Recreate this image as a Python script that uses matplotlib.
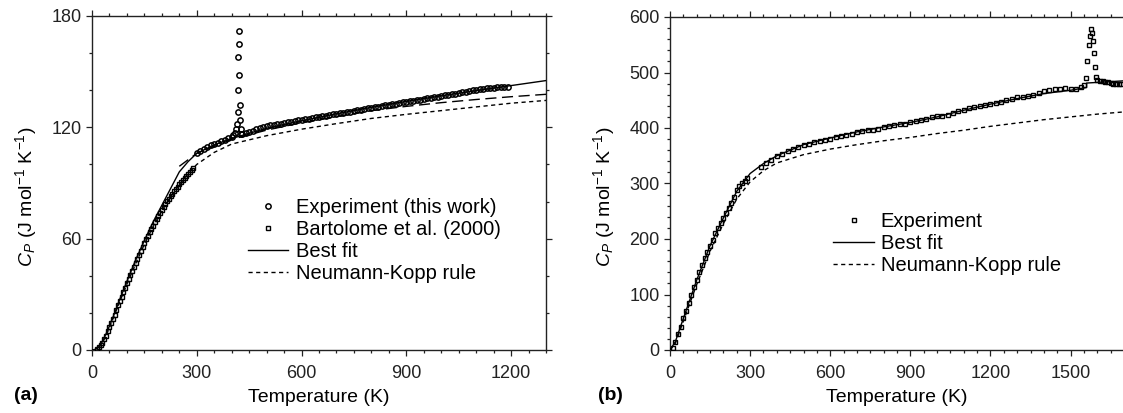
import matplotlib
matplotlib.use("Agg")
import matplotlib.pyplot as plt
from matplotlib.ticker import MultipleLocator

plt.rcParams['font.family'] = ['Liberation Sans', 'DejaVu Sans']
plt.rcParams['mathtext.fontset'] = 'custom'
plt.rcParams['mathtext.rm'] = 'Liberation Sans'
plt.rcParams['mathtext.it'] = 'Liberation Sans:italic'
plt.rcParams['mathtext.bf'] = 'Liberation Sans:bold'

# ---------------- Panel (a) data ----------------
a_exp_T = [300, 310, 320, 330, 340, 350, 360, 370, 380, 390, 400, 405, 410, 413, 415, 417,
           418, 419, 420, 421, 422, 423, 424, 426, 428, 430,
           440, 450, 460, 470, 480, 490, 500, 510, 520, 530, 540, 550, 560, 570, 580, 590,
           600, 610, 620, 630, 640, 650, 660, 670, 680, 690, 700, 710, 720, 730, 740, 750,
           760, 770, 780, 790, 800, 810, 820, 830, 840, 850, 860, 870, 880, 890, 900, 910,
           920, 930, 940, 950, 960, 970, 980, 990, 1000, 1010, 1020, 1030, 1040, 1050, 1060,
           1070, 1080, 1090, 1100, 1110, 1120, 1130, 1140, 1150, 1160, 1170, 1180, 1190]
a_exp_Cp = [106.0, 107.4, 108.5, 109.5, 110.3, 111.0, 111.7, 112.4, 113.2, 114.0, 115.0, 115.8,
            117.0, 119.0, 122.0, 128.0, 140.0, 158.0, 172.0, 165.0, 148.0, 132.0, 124.0, 119.0,
            116.5, 116.2,
            116.8, 117.5, 118.2, 118.9, 119.6, 120.1, 120.6, 121.0, 121.3, 121.7, 122.0, 122.3,
            122.7, 123.0, 123.3, 123.7, 124.0, 124.3, 124.6, 125.0, 125.3, 125.7, 126.0, 126.3,
            126.6, 127.0, 127.3, 127.6, 127.9, 128.2, 128.5, 128.9, 129.2, 129.6, 129.9, 130.2,
            130.5, 130.8, 131.1, 131.5, 131.8, 132.2, 132.5, 132.7, 133.0, 133.4, 133.8, 134.1,
            134.4, 134.7, 135.0, 135.3, 135.6, 136.0, 136.3, 136.6, 136.9, 137.3, 137.6, 137.9,
            138.2, 138.6, 138.9, 139.2, 139.5, 139.9, 140.2, 140.4, 140.7, 141.0, 141.2, 141.4,
            141.6, 141.8, 141.9, 142.0]

a_bart_T = [15, 20, 25, 30, 35, 40, 45, 50, 55, 60, 65, 70, 75, 80, 85, 90, 95, 100, 105, 110,
            115, 120, 125, 130, 135, 140, 145, 150, 155, 160, 165, 170, 175, 180, 185, 190, 195,
            200, 205, 210, 215, 220, 225, 230, 235, 240, 245, 250, 255, 260, 265, 270, 275, 280,
            285, 290]
a_bart_Cp = [0.8, 1.5, 2.6, 4.0, 5.8, 7.8, 10.0, 12.2, 14.5, 16.8, 19.1, 21.5, 24.0, 26.5, 28.8,
             31.2, 33.6, 36.0, 38.3, 40.5, 42.8, 45.0, 47.1, 49.2, 51.4, 53.5, 55.6, 57.6, 59.6,
             61.5, 63.4, 65.2, 67.0, 68.8, 70.5, 72.2, 73.9, 75.6, 77.2, 78.8, 80.2, 81.6, 83.0,
             84.3, 85.6, 86.8, 88.0, 89.2, 90.4, 91.6, 92.7, 93.8, 94.9, 96.0, 97.0, 98.0]

a_fit_T = [0, 10, 20, 30, 40, 50, 60, 80, 100, 125, 150, 175, 200, 225, 250, 275, 300, 350,
           400, 500, 600, 700, 800, 900, 1000, 1100, 1200, 1300]
a_fit_Cp = [0, 0.3, 1.8, 4.6, 8.6, 13.0, 17.6, 27.5, 37.0, 48.5, 59.0, 69.0, 78.0, 87.0, 96.0,
            101.5, 106.0, 110.5, 114.0, 119.5, 123.5, 127.3, 130.8, 134.0, 137.0, 139.8,
            142.5, 145.2]

a_alt_T = [250, 300, 400, 500, 600, 700, 800, 900, 1000, 1100, 1200, 1300]
a_alt_Cp = [99.0, 106.0, 113.5, 118.5, 122.5, 125.8, 129.0, 131.3, 133.3, 135.0, 136.5, 137.8]

a_nk_T = [0, 10, 20, 30, 40, 50, 75, 100, 125, 150, 175, 200, 225, 250, 275, 300, 350, 400,
          500, 600, 700, 800, 900, 1000, 1100, 1200, 1300]
a_nk_Cp = [0, 0.3, 1.5, 4.0, 7.6, 12.0, 24.0, 35.5, 46.5, 57.0, 66.5, 75.0, 82.5, 89.0, 95.0,
           100.0, 106.5, 111.0, 115.5, 119.0, 122.0, 124.8, 127.0, 129.0, 131.0, 133.0, 134.5]

# ---------------- Panel (b) data ----------------
b_exp_T = [10, 20, 30, 40, 50, 60, 70, 80, 90, 100, 110, 120, 130, 140, 150, 160, 170, 180,
           190, 200, 210, 220, 230, 240, 250, 260, 270, 280, 290,
           340, 360, 380, 400, 420, 440, 460, 480, 500, 520, 540, 560, 580, 600, 620, 640,
           660, 680, 700, 720, 740, 760, 780, 800, 820, 840, 860, 880, 900, 920, 940, 960,
           980, 1000, 1020, 1040, 1060, 1080, 1100, 1120, 1140, 1160, 1180, 1200, 1220, 1240,
           1260, 1280, 1300, 1320, 1340, 1360, 1380, 1400, 1420, 1440, 1460, 1480, 1500, 1520,
           1540, 1550, 1556, 1562, 1568, 1572, 1576, 1580, 1584, 1588, 1592, 1596, 1600, 1610,
           1620, 1630, 1640, 1650, 1660, 1670, 1680, 1690]
b_exp_Cp = [3, 15, 28, 42, 57, 71, 85, 100, 113, 126, 140, 153, 165, 177, 188, 199, 210, 219,
            229, 238, 247, 256, 265, 275, 288, 296, 300, 305, 310,
            330, 337, 343, 349, 354, 359, 363, 366, 369, 372, 375, 377, 379, 381, 383, 385,
            387, 389, 392, 394, 396, 397, 399, 402, 404, 406, 407, 408, 410, 412, 415, 417,
            419, 421, 422, 424, 427, 430, 433, 436, 438, 440, 442, 444, 445, 446,
            450, 453, 455, 456, 458, 460, 463, 466, 468, 470, 471, 472, 471, 471,
            473, 478, 490, 520, 550, 565, 578, 572, 556, 535, 510, 492, 487, 484,
            485, 483, 482, 481, 480, 479, 480, 479]

b_fit_T = [0, 20, 50, 100, 150, 200, 250, 300, 350, 400, 500, 600, 700, 800, 900, 1000,
           1100, 1200, 1300, 1400, 1500, 1560, 1560, 1700]
b_fit_Cp = [0, 15, 57, 126, 188, 238, 286, 318, 336, 350, 370, 382, 393, 402, 410, 420, 432,
            443, 453, 462, 468, 473, 481, 485]

b_nk_T = [0, 20, 50, 100, 150, 200, 250, 300, 350, 400, 500, 600, 700, 800, 900, 1000,
          1100, 1200, 1300, 1400, 1500, 1600, 1700]
b_nk_Cp = [0, 12, 52, 118, 178, 228, 272, 303, 323, 337, 352, 362, 370, 377, 383, 390, 396,
           403, 409, 415, 420, 425, 429]

TICK_FS = 13
LAB_FS = 14
LEG_FS = 14.5
W, H = 1123, 413
fig = plt.figure(figsize=(W / 100, H / 100), dpi=100)

def px_axes(l, r, t, b):
    return fig.add_axes([l / W, 1 - b / H, (r - l) / W, (b - t) / H])

ax1 = px_axes(92, 546, 16, 350)
ax2 = px_axes(670, 1124, 17, 350)

def style(ax, xmaj, xmin, ymaj, ymin):
    ax.xaxis.set_major_locator(MultipleLocator(xmaj))
    ax.xaxis.set_minor_locator(MultipleLocator(xmin))
    ax.yaxis.set_major_locator(MultipleLocator(ymaj))
    ax.yaxis.set_minor_locator(MultipleLocator(ymin))
    ax.tick_params(which='both', direction='out', top=True, right=True,
                   labeltop=False, labelright=False, width=0.9, colors='#222222')
    ax.tick_params(which='major', length=4.5)
    ax.tick_params(which='minor', length=2.5)
    ax.tick_params(axis='x', which='major', pad=6.5, labelsize=TICK_FS)
    ax.tick_params(axis='y', which='major', pad=3, labelsize=TICK_FS)
    for s in ax.spines.values():
        s.set_linewidth(1.0)
        s.set_color('#222222')
    ax.set_xlabel('Temperature (K)', fontsize=LAB_FS)
    ax.xaxis.set_label_coords(0.5, -0.118)
    ax.set_ylabel(r'$C_P$ (J mol$^{-1}$ K$^{-1}$)', fontsize=LAB_FS)

leg_kw = dict(loc='upper left', frameon=False, fontsize=LEG_FS, handlelength=2.0,
              handletextpad=0.35, labelspacing=0.15, borderpad=0, borderaxespad=0)

# ---- panel a ----
ax1.plot(a_fit_T, a_fit_Cp, '-', color='black', lw=1.0, label='Best fit', zorder=3)
ax1.plot(a_alt_T, a_alt_Cp, color='black', lw=1.0, ls=(0, (8, 4)), zorder=3)
ax1.plot(a_nk_T, a_nk_Cp, color='black', lw=1.0, ls=(0, (3, 2.5)), label='Neumann-Kopp rule', zorder=3)
ax1.plot(a_exp_T, a_exp_Cp, 'o', ms=3.8, mfc='none', mec='black', mew=1.1, ls='none',
         label='Experiment (this work)', zorder=4)
ax1.plot(a_bart_T, a_bart_Cp, 's', ms=3.2, mfc='none', mec='black', mew=1.0, ls='none',
         label='Bartolome et al. (2000)', zorder=4)
ax1.set_xlim(0, 1300)
ax1.set_ylim(0, 180)
style(ax1, 300, 50, 60, 20)
ax1.yaxis.set_label_coords(-0.117, 0.46)
h, l = ax1.get_legend_handles_labels()
order = [2, 3, 0, 1]
ax1.legend([h[i] for i in order], [l[i] for i in order],
           bbox_to_anchor=(0.344, 0.455), **leg_kw)

# ---- panel b ----
ax2.plot(b_fit_T, b_fit_Cp, '-', color='black', lw=1.0, label='Best fit', zorder=3)
ax2.plot(b_nk_T, b_nk_Cp, color='black', lw=1.0, ls=(0, (3, 2.5)), label='Neumann-Kopp rule', zorder=3)
ax2.plot(b_exp_T, b_exp_Cp, 's', ms=3.2, mfc='none', mec='black', mew=1.0, ls='none',
         label='Experiment', zorder=4)
ax2.set_xlim(0, 1700)
ax2.set_ylim(0, 600)
style(ax2, 300, 50, 100, 20)
ax2.yaxis.set_label_coords(-0.117, 0.46)
h, l = ax2.get_legend_handles_labels()
order = [2, 0, 1]
ax2.legend([h[i] for i in order], [l[i] for i in order],
           bbox_to_anchor=(0.36, 0.415), **leg_kw)

fig.text(14 / W, 1 - 396 / H, '(a)', fontsize=LAB_FS, fontweight='bold', va='center', ha='left')
fig.text(598 / W, 1 - 396 / H, '(b)', fontsize=LAB_FS, fontweight='bold', va='center', ha='left')

fig.savefig('out.png', dpi=100)
